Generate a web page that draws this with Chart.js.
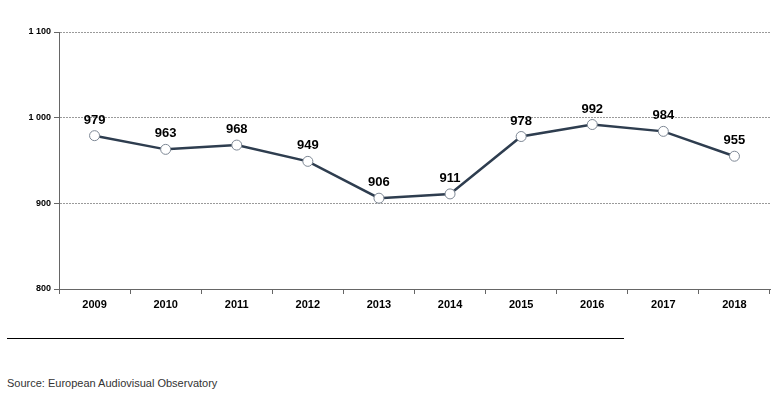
<!DOCTYPE html>
<html>
<head>
<meta charset="utf-8">
<script src="https://cdn.jsdelivr.net/npm/chart.js@4"></script>
<style>
  body { margin: 0; background: #fff; width: 778px; height: 395px; position: relative; overflow: hidden; font-family: "Liberation Sans", Arial, sans-serif; }
  #wrap { position: absolute; left: 0; top: 0; width: 778px; height: 320px; }
  #rule { position: absolute; left: 7px; top: 338px; width: 617px; height: 0; border-top: 1px solid #000; }
  #source { position: absolute; left: 7px; top: 377px; font-size: 11px; color: #333; }
</style>
</head>
<body>
<div id="wrap"><canvas id="chart" width="778" height="320"></canvas></div>
<div id="rule"></div>
<div id="source">Source: European Audiovisual Observatory</div>
<script>
// years and values
const years = ["2009", "2010", "2011", "2012", "2013", "2014", "2015", "2016", "2017", "2018"];
const values = [979, 963, 968, 949, 906, 911, 978, 992, 984, 955];
const yTicks = [800, 900, 1000, 1100];

// draw the value above each point
const valueLabels = {
  id: "valueLabels",
  afterDatasetsDraw(chart) {
    const ctx = chart.ctx;
    const meta = chart.getDatasetMeta(0);
    ctx.save();
    ctx.font = "bold 13px 'Liberation Sans', Arial, sans-serif";
    ctx.fillStyle = "#000";
    ctx.textAlign = "center";
    ctx.textBaseline = "bottom";
    meta.data.forEach((pt, i) => {
      ctx.fillText(values[i], pt.x, pt.y - 9);
    });
    ctx.restore();
  }
};

new Chart(document.getElementById("chart").getContext("2d"), {
  type: "line",
  data: {
    labels: years,
    datasets: [{
      data: values,
      borderColor: "#2e3d4f",
      borderWidth: 2.5,
      tension: 0,
      pointRadius: 5,
      pointBackgroundColor: "#fff",
      pointBorderColor: "#7d8794",
      pointBorderWidth: 1
    }]
  },
  options: {
    responsive: false,
    animation: false,
    layout: { padding: { top: 32, right: 8, bottom: 0, left: 0 } },
    plugins: { legend: { display: false }, tooltip: { enabled: false } },
    scales: {
      x: {
        offset: true,
        afterFit: s => { s.height = 31; },
        border: { color: "#666", width: 1 },
        grid: { offset: true, drawOnChartArea: false, drawTicks: true, tickLength: 5, tickColor: "#666" },
        ticks: { color: "#000", padding: 4, font: { family: "'Liberation Sans', Arial", size: 11, weight: "bold" } }
      },
      y: {
        min: 800,
        max: 1100,
        afterFit: s => { s.width = 59; },
        afterBuildTicks: s => { s.ticks = yTicks.map(v => ({ value: v })); },
        border: { color: "#666", width: 1, dash: [2, 1] },
        grid: {
          color: c => c.tick && c.tick.value === 800 ? "rgba(0,0,0,0)" : "#9a9a9a",
          lineWidth: 1,
          tickLength: 5,
          tickColor: "#666",
          tickBorderDash: []
        },
        ticks: {
          color: "#000",
          padding: 3,
          font: { family: "'Liberation Sans', Arial", size: 9, weight: "bold" },
          callback: v => String(v).replace(/\B(?=(\d{3})+(?!\d))/g, " ")
        }
      }
    }
  },
  plugins: [valueLabels]
});
</script>
</body>
</html>
